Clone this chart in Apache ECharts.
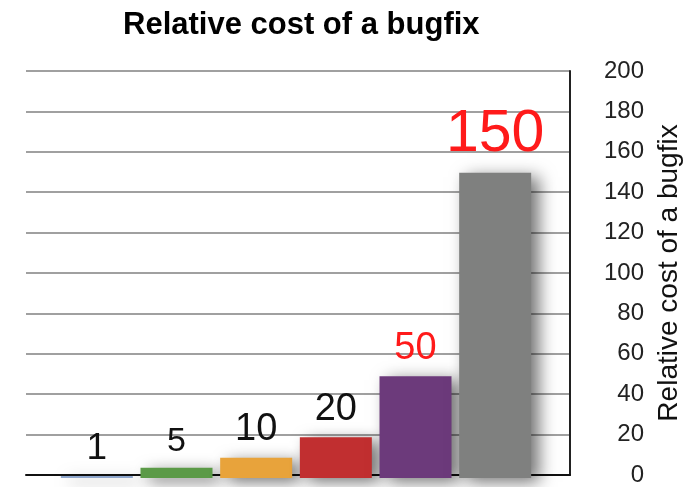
<!DOCTYPE html>
<html>
<head>
<meta charset="utf-8">
<script src="https://cdn.jsdelivr.net/npm/echarts@6/dist/echarts.min.js"></script>
<style>
  html, body { margin: 0; padding: 0; background: #fff; }
  #chart { width: 696px; height: 487px; }
</style>
</head>
<body>
<div id="chart"></div>
<script>
  // data
  let categories = ['Requirements', 'Design', 'Coding', 'Testing', 'Acceptance', 'Production'];
  let costValues = [1, 5, 10, 20, 50, 150];
  let yTicks = [0, 200, 20]; // min, max, interval

  // look of each bar and its label
  let barColors = ['#8ea6cc', '#5b9a47', '#e8a33b', '#c12f30', '#6c3a7b', '#7f807f'];
  let labelSizes = [37, 34, 38, 38, 38, 59];
  let labelColors = ['#111', '#111', '#111', '#111', '#ff1a1a', '#ff1a1a'];

  let font = '"Liberation Sans", Arial, Helvetica, sans-serif';

  let barData = costValues.map(function (v, i) {
    return {
      value: v,
      itemStyle: { color: barColors[i] },
      label: { fontSize: labelSizes[i], color: labelColors[i] }
    };
  });

  let chart = echarts.init(document.getElementById('chart'));
  chart.setOption({
    animation: false,
    title: {
      text: 'Relative cost of a bugfix',
      left: 118,
      top: 5,
      textStyle: { fontFamily: font, fontSize: 31, fontWeight: 'bold', color: '#000' }
    },
    grid: [
      { left: 26, right: 126, top: 71, bottom: 9 },
      { left: 57, right: 161, top: 71, bottom: 9 }
    ],
    xAxis: [
      {
        gridIndex: 0,
        type: 'category',
        data: categories,
        axisLine: { lineStyle: { color: '#111', width: 2 } },
        axisTick: { show: false },
        axisLabel: { show: false }
      },
      {
        gridIndex: 1,
        type: 'category',
        data: categories,
        show: false
      }
    ],
    yAxis: [
      {
        gridIndex: 0,
        type: 'value',
        position: 'right',
        min: yTicks[0],
        max: yTicks[1],
        interval: yTicks[2],
        name: 'Relative cost of a bugfix',
        nameLocation: 'middle',
        nameRotate: 90,
        nameGap: 84,
        nameTextStyle: { fontFamily: font, fontSize: 28, color: '#111' },
        axisLine: { show: true, lineStyle: { color: '#222', width: 2 } },
        axisTick: { show: false },
        axisLabel: { fontFamily: font, fontSize: 24, color: '#222', margin: 74, align: 'right' },
        splitLine: { lineStyle: { color: '#a0a0a0', width: 2 } }
      },
      {
        gridIndex: 1,
        type: 'value',
        min: yTicks[0],
        max: yTicks[1],
        show: false
      }
    ],
    series: [
      {
        type: 'bar',
        xAxisIndex: 1,
        yAxisIndex: 1,
        data: barData,
        barWidth: 72,
        itemStyle: {
          shadowBlur: 16,
          shadowColor: 'rgba(0,0,0,0.55)',
          shadowOffsetX: 8,
          shadowOffsetY: 4
        },
        label: {
          show: true,
          position: 'top',
          distance: 9,
          fontFamily: font
        },
        z: 5
      }
    ]
  });
</script>
</body>
</html>
